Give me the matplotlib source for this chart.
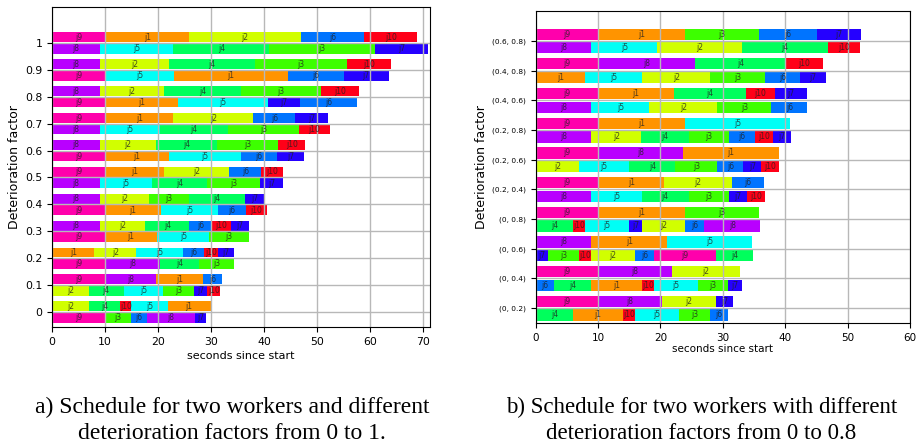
"""Two Gantt-style schedules: two workers, varying deterioration factors."""

import matplotlib.pyplot as plt
from matplotlib import cm

# ---- data: (a) factors 0..1, one tick per factor, two workers per tick ----
LEFT_FACTORS = ["0", "0.1", "0.2", "0.3", "0.4", "0.5", "0.6", "0.7", "0.8", "0.9", "1"]

LEFT_TOP_JOBS = [
    [2, 4, 10, 5, 1],
    [9, 8, 1, 6],
    [1, 2, 5, 6, 10, 7],
    [8, 2, 4, 6, 10, 7],
    [8, 2, 3, 4, 7],
    [9, 1, 2, 6, 10],
    [8, 2, 4, 3, 10],
    [9, 1, 2, 6, 7],
    [8, 2, 4, 3, 10],
    [8, 2, 4, 3, 10],
    [9, 1, 2, 6, 10],
]
LEFT_TOP_ENDS = [
    [6.9, 12.9, 14.9, 21.8, 29.9],
    [10, 19.6, 28.5, 32.0],
    [8.0, 15.9, 24.7, 28.7, 31.4, 34.3],
    [9.0, 17.6, 25.9, 30.2, 33.7, 37.1],
    [9.0, 18.2, 25.9, 36.4, 40.0],
    [10, 21.2, 33.4, 39.5, 43.6],
    [9.0, 19.6, 31.1, 42.6, 47.8],
    [10, 22.9, 38.0, 45.9, 52.0],
    [9.0, 21.1, 35.6, 50.7, 57.9],
    [9.0, 22.0, 38.2, 55.6, 64.0],
    [10, 25.9, 46.9, 58.9, 68.9],
]
LEFT_BOTTOM_JOBS = [
    [9, 3, 6, 8, 7],
    [2, 4, 5, 3, 7, 10],
    [9, 8, 4, 3],
    [9, 1, 5, 3],
    [9, 1, 5, 6, 10],
    [8, 5, 4, 3, 7],
    [9, 1, 5, 6, 7],
    [8, 5, 4, 3, 10],
    [9, 1, 5, 7, 6],
    [9, 5, 1, 6, 7],
    [8, 5, 4, 3, 7],
]
LEFT_BOTTOM_ENDS = [
    [10, 14.9, 17.9, 27.0, 29.0],
    [6.9, 13.5, 21.0, 26.8, 29.3, 31.7],
    [10, 20.4, 27.8, 34.4],
    [10, 19.8, 29.7, 37.1],
    [10, 20.5, 31.4, 36.5, 40.5],
    [9.0, 18.8, 29.3, 39.2, 43.5],
    [10, 22.0, 35.6, 42.4, 47.6],
    [9.0, 20.4, 33.2, 46.5, 52.5],
    [10, 23.8, 40.7, 46.8, 57.6],
    [10, 23.0, 44.5, 55.0, 63.5],
    [9.0, 22.9, 41.0, 60.9, 71.0],
]

# ---- data: (b) factor pairs 0..0.8 ----
RIGHT_FACTORS = ["(0, 0.2)", "(0, 0.4)", "(0, 0.6)", "(0, 0.8)", "(0.2, 0.4)",
                 "(0.2, 0.6)", "(0.2, 0.8)", "(0.4, 0.6)", "(0.4, 0.8)", "(0.6, 0.8)"]

RIGHT_TOP_JOBS = [
    [9, 8, 2, 7],
    [9, 8, 2],
    [8, 1, 5],
    [9, 1, 3],
    [9, 1, 2, 6],
    [9, 8, 1],
    [9, 1, 5],
    [9, 1, 4, 10, 7],
    [9, 8, 4, 10],
    [9, 1, 3, 6, 7],
]
RIGHT_TOP_ENDS = [
    [10, 20.2, 28.9, 31.6],
    [10, 21.8, 32.7],
    [8.9, 21.1, 34.7],
    [10, 23.9, 35.8],
    [10, 20.6, 31.4, 36.6],
    [10, 23.6, 39.0],
    [10, 23.9, 40.8],
    [10, 22.1, 33.7, 38.3, 43.5],
    [10, 25.6, 40.1, 46.1],
    [10, 23.9, 35.8, 45.1, 52.2],
]
RIGHT_BOTTOM_JOBS = [
    [4, 1, 10, 5, 3, 6],
    [6, 4, 1, 10, 5, 3, 7],
    [7, 3, 10, 2, 6, 9, 4],
    [4, 10, 5, 7, 2, 6, 8],
    [8, 5, 4, 3, 7, 10],
    [2, 5, 4, 3, 6, 7, 10],
    [8, 2, 4, 3, 6, 10, 7],
    [8, 5, 2, 3, 6],
    [1, 5, 2, 3, 6, 7],
    [8, 5, 2, 4, 10],
]
RIGHT_BOTTOM_ENDS = [
    [6.0, 14.0, 15.9, 23.0, 27.9, 30.9],
    [2.9, 8.9, 17.0, 18.9, 26.0, 30.9, 33.0],
    [2.0, 6.9, 8.8, 15.9, 18.9, 28.9, 34.9],
    [6.0, 7.9, 15.0, 17.0, 23.9, 27.0, 36.0],
    [8.9, 17.0, 24.5, 31.0, 33.8, 36.7],
    [6.9, 15.0, 22.4, 29.1, 33.3, 36.2, 39.0],
    [8.9, 16.9, 24.5, 31.0, 35.2, 38.0, 41.0],
    [8.9, 18.2, 29.1, 37.8, 43.5],
    [7.9, 17.1, 28.0, 36.7, 42.4, 46.5],
    [8.9, 19.5, 33.1, 46.8, 52.0],
]

CAPTION_A = "a) Schedule for two workers and different\ndeterioration factors from 0 to 1."
CAPTION_B = "b) Schedule for two workers with different\ndeterioration factors from 0 to 0.8"


def draw_row(ax, y, jobs, ends, height, label_size):
    starts = [0] + ends[:-1]
    widths = [e - s for s, e in zip(starts, ends)]
    colors = [cm.hsv(j / 10) for j in jobs]
    ax.barh([y] * len(jobs), widths, left=starts, height=height, color=colors)
    for j, s, w in zip(jobs, starts, widths):
        ax.text(s + w / 2, y, f"j{j}", ha="center", va="center",
                fontsize=label_size, color="#202020", alpha=0.8, zorder=4)


def gantt(ax, factors, top_jobs, top_ends, bot_jobs, bot_ends, off, height, label_size):
    for i in range(len(factors)):
        draw_row(ax, i + off, top_jobs[i], top_ends[i], height, label_size)
        draw_row(ax, i - off, bot_jobs[i], bot_ends[i], height, label_size)
    ax.set_yticks(range(len(factors)))
    ax.set_yticklabels(factors)
    ax.grid(True, color="#b8b8b8", linewidth=1.0)
    ax.set_ylabel("Deterioration factor", fontsize=9, labelpad=3)


fig = plt.figure(figsize=(9.16, 4.46), dpi=100)

ax1 = fig.add_axes([0.0568, 0.2668, 0.4126, 0.7175])
gantt(ax1, LEFT_FACTORS, LEFT_TOP_JOBS, LEFT_TOP_ENDS,
      LEFT_BOTTOM_JOBS, LEFT_BOTTOM_ENDS, 0.21, 0.37, 5.5)
ax1.set_xlim(0, 71.3)
ax1.set_ylim(-0.56, 11.34)
ax1.set_xticks(range(0, 71, 10))
ax1.tick_params(labelsize=7.8)
ax1.set_xlabel("seconds since start", fontsize=8, labelpad=3)

ax2 = fig.add_axes([0.5848, 0.2758, 0.4086, 0.6995])
gantt(ax2, RIGHT_FACTORS, RIGHT_TOP_JOBS, RIGHT_TOP_ENDS,
      RIGHT_BOTTOM_JOBS, RIGHT_BOTTOM_ENDS, 0.23, 0.38, 5.5)
ax2.set_xlim(0, 60)
ax2.set_ylim(-0.5, 10.01)
ax2.set_xticks(range(0, 61, 10))
ax2.tick_params(axis="x", labelsize=7.5)
ax2.tick_params(axis="y", labelsize=5.3)
ax2.set_xlabel("seconds since start", fontsize=7.5, labelpad=1)

fig.text(0.2535, 0.058, CAPTION_A, ha="center", va="center", fontsize=17,
         family="Liberation Serif", linespacing=1.3)
fig.text(0.7655, 0.058, CAPTION_B, ha="center", va="center", fontsize=16.5,
         family="Liberation Serif", linespacing=1.3)

fig.savefig("out.png", dpi=100)
